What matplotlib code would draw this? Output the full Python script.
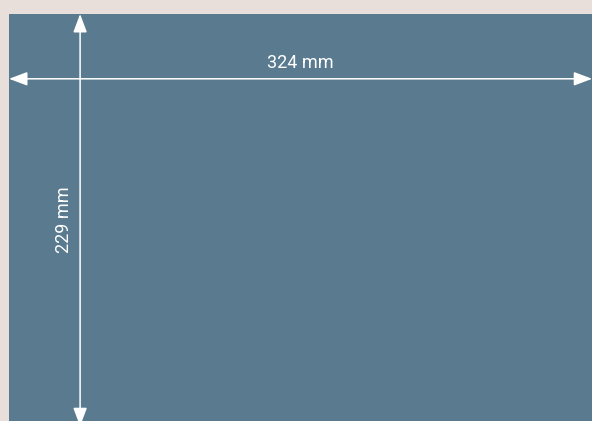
import matplotlib.pyplot as plt
from matplotlib.patches import Rectangle

# envelope size (C4)
width_mm = 324
height_mm = 229
labels = ["324 mm", "229 mm"]

bg = "#e8dfda"
sheet = "#5a7b8f"

fig = plt.figure(figsize=(5.92, 4.21), dpi=100, facecolor=bg)
ax = fig.add_axes([0, 0, 1, 1])
ax.set_facecolor(bg)

scale = 1.8  # px per mm
ax.set_xlim(-9 / scale, (592 - 9) / scale)
ax.set_ylim((421 - 14) / scale, -14 / scale)
ax.axis("off")

ax.add_patch(Rectangle((0, 0), width_mm, height_mm, facecolor=sheet, edgecolor="none"))

arrow = dict(arrowstyle="<|-|>,head_length=0.8,head_width=0.3", color="white",
             lw=1.1, shrinkA=0, shrinkB=0, mutation_scale=14)

# horizontal dimension
hy = 36
ax.annotate("", xy=(0, hy), xytext=(width_mm, hy), arrowprops=arrow)
ax.text(width_mm / 2, hy - 6, labels[0], color="white", fontsize=13,
        family="Roboto", ha="center", va="baseline")

# vertical dimension
vx = 39.5
ax.annotate("", xy=(vx, 0), xytext=(vx, height_mm), arrowprops=arrow)
ax.text(vx - 8.7, height_mm / 2, labels[1], color="white", fontsize=13,
        family="Roboto", rotation=90, ha="center", va="center")

fig.savefig("out.png", dpi=100, facecolor=bg)
